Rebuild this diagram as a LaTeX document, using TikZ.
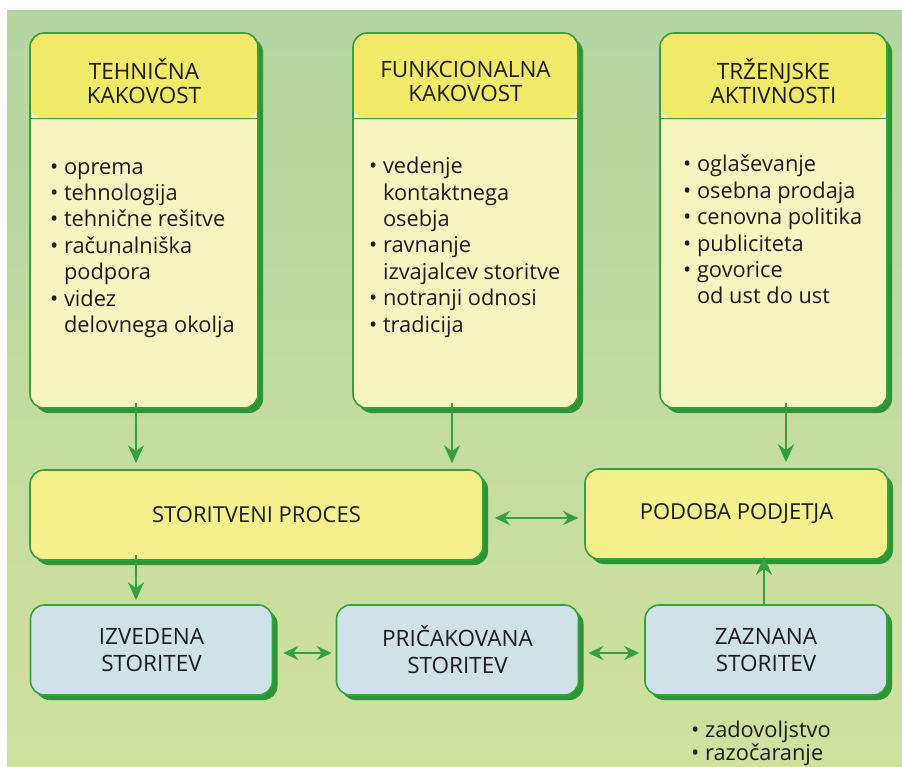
\documentclass[tikz,border=0pt]{standalone}
\usepackage{fontspec}
\setmainfont{Open Sans}
\usetikzlibrary{arrows.meta,shadows,positioning,calc}

\definecolor{bgtop}{RGB}{180,213,162}
\definecolor{bgbot}{RGB}{208,225,158}
\definecolor{boxgreen}{RGB}{52,160,62}
\definecolor{shadegreen}{RGB}{44,150,52}
\definecolor{hdryellow}{RGB}{240,234,104}
\definecolor{bodyyellow}{RGB}{248,244,192}
\definecolor{procyellow}{RGB}{246,240,140}
\definecolor{svcblue}{RGB}{206,226,232}
\definecolor{txt}{RGB}{30,27,28}

\tikzset{
  box/.style={draw=boxgreen, line width=1.6pt, rounded corners=14pt,
    drop shadow={shadow xshift=5pt, shadow yshift=-5pt, fill=shadegreen, opacity=1}},
  colbox/.style={box, fill=bodyyellow, minimum width=228pt, minimum height=375pt,
    path picture={\fill[hdryellow] (path picture bounding box.north west)
      rectangle ([yshift=-86pt]path picture bounding box.north east);}},
  procbox/.style={box, fill=procyellow, minimum height=90pt, text=txt,
    font=\fontsize{22}{25}\selectfont},
  svcbox/.style={box, fill=svcblue, minimum width=242pt, minimum height=90pt,
    text=txt, align=center, font=\fontsize{22.5}{27}\selectfont},
  hdr/.style={text=txt, align=center, inner sep=0pt, font=\fontsize{22.5}{24}\selectfont},
  lst/.style={text=txt, align=left, inner sep=0pt, anchor=north west,
    font=\fontsize{21.8}{26.4}\selectfont},
  arr/.style={boxgreen, line width=2.2pt, -{Stealth[length=18pt,width=16pt,inset=6pt]}},
  dbl/.style={boxgreen, line width=2.2pt,
    {Stealth[length=15pt,width=14pt,inset=5pt]}-{Stealth[length=15pt,width=14pt,inset=5pt]}}
}

\begin{document}
\begin{tikzpicture}[x=1pt,y=-1pt]
    \useasboundingbox (0,0) rectangle (902,766);

    % Background
    \fill[white] (0,0) rectangle (902,766);
    \shade[top color=bgtop, bottom color=bgbot] (7,10) rectangle (902,766);

    % Three column boxes
    \node[colbox] (tk) at (144,220.5) {};
    \node[colbox, minimum width=225pt] (fk) at (465.5,220.5) {};
    \node[colbox, minimum width=227pt] (tr) at (773.5,220.5) {};
    \foreach \b in {tk,fk,tr}
        \draw[boxgreen, line width=1.2pt] ([yshift=-86pt]\b.north west) -- ([yshift=-86pt]\b.north east);

    % Column headers
    \node[hdr] (tkh) at ([yshift=-49pt]tk.north) {TEHNIČNA\\KAKOVOST};
    \node[hdr] (fkh) at ([yshift=-49pt]fk.north) {FUNKCIONALNA\\KAKOVOST};
    \node[hdr] (trh) at ([yshift=-49pt]tr.north) {TRŽENJSKE\\AKTIVNOSTI};

    % Column lists
    \node[lst] (tkl) at (50,162) {\textbullet\ oprema\\\textbullet\ tehnologija\\\textbullet\ tehnične rešitve\\\textbullet\ računalniška\\\phantom{\textbullet\ }podpora\\\textbullet\ videz\\\phantom{\textbullet\ }delovnega okolja};
    \node[lst] (fkl) at (369,157) {\textbullet\ vedenje\\\phantom{\textbullet\ }kontaktnega\\\phantom{\textbullet\ }osebja\\\textbullet\ ravnanje\\\phantom{\textbullet\ }izvajalcev storitve\\\textbullet\ notranji odnosi\\\textbullet\ tradicija};
    \node[lst] (trl) at (683,155) {\textbullet\ oglaševanje\\\textbullet\ osebna prodaja\\\textbullet\ cenovna politika\\\textbullet\ publiciteta\\\textbullet\ govorice\\\phantom{\textbullet\ }od ust do ust};

    % Middle row
    \node[procbox, minimum width=453pt] (sp) at (256.5,515) {STORITVENI PROCES};
    \node[procbox, minimum width=303pt] (pp) at (736.5,514) {PODOBA PODJETJA};

    % Bottom row
    \node[svcbox] (iz) at (151.5,650) {IZVEDENA\\STORITEV};
    \node[svcbox] (pr) at (457.5,650) {PRIČAKOVANA\\STORITEV};
    \node[svcbox] (za) at (766,650) {ZAZNANA\\STORITEV};

    % List under ZAZNANA
    \node[lst, font=\fontsize{21.8}{23}\selectfont] (zal) at (691,721) {\textbullet\ zadovoljstvo\\\textbullet\ razočaranje};

    % Arrows down
    \draw[arr, shorten <=-6pt, shorten >=6pt] ([xshift=-8pt]tk.south) -- ([xshift=-8pt]tk.south |- sp.north);
    \draw[arr, shorten <=-6pt, shorten >=6pt] ([xshift=-13.5pt]fk.south) -- ([xshift=-13.5pt]fk.south |- sp.north);
    \draw[arr, shorten <=-6pt, shorten >=6pt] ([xshift=12.5pt]tr.south) -- ([xshift=12.5pt]tr.south |- pp.north);
    \draw[arr, shorten <=-6pt, shorten >=4pt] ([xshift=-8pt]tk.south |- sp.south) -- ([xshift=-8pt]tk.south |- iz.north);
    \draw[arr, shorten >=-3pt] ([xshift=-2pt]za.north) -- ([xshift=-2pt]za.north |- pp.south);

    % Two-way arrows
    \draw[dbl, shorten <=11pt, shorten >=6pt] (sp.east |- 0,518) -- (pp.west |- 0,518);
    \draw[dbl, shorten <=10pt, shorten >=4pt] (iz.east |- 0,653) -- (pr.west |- 0,653);
    \draw[dbl, shorten <=9pt, shorten >=5pt] (pr.east |- 0,653) -- (za.west |- 0,653);

\end{tikzpicture}
\end{document}
